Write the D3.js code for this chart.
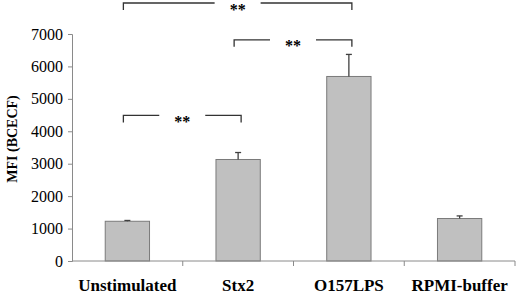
<!DOCTYPE html>
<html>
<head>
<meta charset="utf-8">
<script src="https://cdn.jsdelivr.net/npm/d3@7"></script>
<style>
  body { margin: 0; background: #fff; }
  svg text { font-family: "Liberation Serif", "Times New Roman", serif !important; }
</style>
</head>
<body>
<div id="chart"></div>
<script>
// groups and measured values
const categories = ["Unstimulated", "Stx2", "O157LPS", "RPMI-buffer"];
const means = [1225, 3130, 5690, 1310];
const errors = [25, 215, 680, 80];
const yTicks = [0, 1000, 2000, 3000, 4000, 5000, 6000, 7000];

// significance brackets: from group, to group, height in data units, label
const brFrom = ["Unstimulated", "Stx2", "Unstimulated"];
const brTo = ["O157LPS", "O157LPS", "Stx2"];
const brLevel = [7960, 6820, 4490];
const brLabel = ["**", "**", "**"];

const margin = {top: 0, right: 5, bottom: 35, left: 72};
const W = 520, H = 296;
const width = W - margin.left - margin.right;
const height = 261 - margin.top;

const svg = d3.select("#chart")
  .append("svg")
  .attr("width", W)
  .attr("height", H)
  .style("font-family", "'Liberation Serif', serif");

const chart = svg.append("g")
  .attr("transform", `translate(${margin.left}, ${margin.top})`);

const x = d3.scaleBand()
  .domain(categories)
  .range([0, width])
  .paddingInner(0.6)
  .paddingOuter(0.3);

const y = d3.scaleLinear()
  .domain([0, 7000])
  .range([height, height - 7000 * 0.03243]);

// bars
chart.selectAll("rect.bar")
  .data(categories)
  .join("rect")
  .attr("class", "bar")
  .attr("x", d => x(d))
  .attr("width", x.bandwidth())
  .attr("y", (d, i) => y(means[i]))
  .attr("height", (d, i) => y(0) - y(means[i]))
  .attr("fill", "#c0c0c0")
  .attr("stroke", "#7a7a7a")
  .attr("stroke-width", 1);

// error bars (upper only)
const eb = chart.selectAll("g.err")
  .data(categories)
  .join("g")
  .attr("class", "err")
  .attr("transform", d => `translate(${x(d) + x.bandwidth() / 2}, 0)`);
eb.append("line")
  .attr("y1", (d, i) => y(means[i]))
  .attr("y2", (d, i) => y(means[i] + errors[i]))
  .attr("stroke", "#404040").attr("stroke-width", 1.3);
eb.append("line")
  .attr("x1", -3).attr("x2", 3)
  .attr("y1", (d, i) => y(means[i] + errors[i]))
  .attr("y2", (d, i) => y(means[i] + errors[i]))
  .attr("stroke", "#404040").attr("stroke-width", 1.3);

// y axis
const yAxis = chart.append("g")
  .call(d3.axisLeft(y).tickValues(yTicks).tickSize(4).tickPadding(5).tickFormat(d3.format("d")));
yAxis.attr("font-family", null);
yAxis.select(".domain").attr("stroke", "#8a8a8a");
yAxis.selectAll(".tick line").attr("stroke", "#8a8a8a");
yAxis.selectAll(".tick text")
  .attr("font-size", 16)
  .attr("fill", "#000");

// x axis: ticks between groups
const bounds = categories.map((d, i) => (i + 1) * width / categories.length);
const xAxis = chart.append("g")
  .attr("transform", `translate(0, ${height})`);
xAxis.append("line")
  .attr("x1", 0).attr("x2", width)
  .attr("stroke", "#8a8a8a");
xAxis.selectAll("line.tk")
  .data(bounds)
  .join("line")
  .attr("class", "tk")
  .attr("x1", d => d).attr("x2", d => d)
  .attr("y1", 0).attr("y2", 5)
  .attr("stroke", "#8a8a8a");
xAxis.selectAll("text")
  .data(categories)
  .join("text")
  .attr("x", d => x(d) + x.bandwidth() / 2)
  .attr("y", 30)
  .attr("text-anchor", "middle")
  .attr("font-weight", "bold")
  .attr("font-size", 17)
  .text(d => d);

// y axis title
svg.append("text")
  .attr("transform", `translate(17, 139) rotate(-90)`)
  .attr("text-anchor", "middle")
  .attr("font-weight", "bold")
  .attr("font-size", 14)
  .text("MFI (BCECF)");

// significance brackets
const brackets = brFrom.map((f, i) => ({from: f, to: brTo[i], level: brLevel[i], label: brLabel[i]}));
const br = chart.selectAll("g.br")
  .data(brackets)
  .join("g")
  .attr("class", "br");
br.each(function(d) {
  const g = d3.select(this);
  const x1 = x(d.from) + x.bandwidth() / 2 - 4;
  const x2 = x(d.to) + x.bandwidth() / 2 + 3;
  const yy = Math.max(y(d.level), 3);
  const mid = (x1 + x2) / 2;
  const gap = 23;
  g.append("path")
    .attr("d", `M${x1},${yy + 7}V${yy}H${mid - gap}M${mid + gap},${yy}H${x2}V${yy + 7}`)
    .attr("fill", "none")
    .attr("stroke", "#333")
    .attr("stroke-width", 1.3);
  g.append("text")
    .attr("x", mid)
    .attr("y", yy + 11.5)
    .attr("text-anchor", "middle")
    .attr("font-size", 16)
    .attr("font-weight", "bold")
    .text(d.label);
});
</script>
</body>
</html>
